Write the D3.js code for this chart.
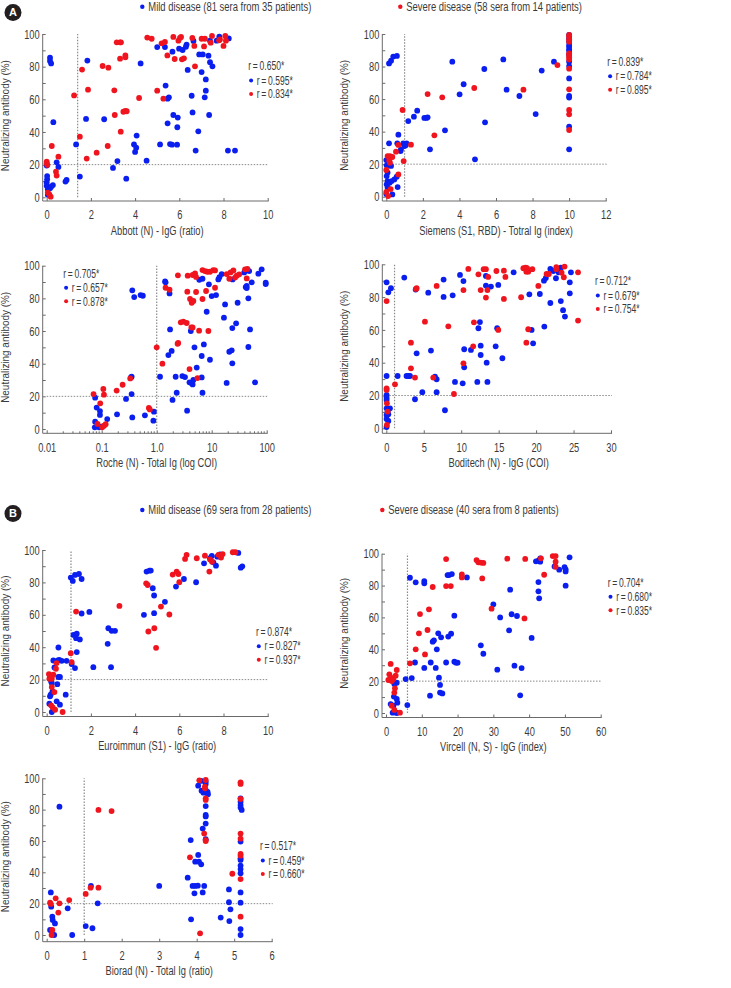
<!DOCTYPE html>
<html><head><meta charset="utf-8">
<script src="https://cdn.jsdelivr.net/npm/d3@7"></script>
<style>
body{margin:0;background:#fff}
svg text{font-family:"Liberation Sans Narrow","Arial Narrow",sans-serif;fill:#3a3a3a}
</style></head><body>
<svg id="c" width="731" height="988"></svg>
<script>
// ---------- data ----------
const groups = ["Mild disease", "Severe disease"];
const legendA = ["Mild disease (81 sera from 35 patients)", "Severe disease (58 sera from 14 patients)"];
const legendB = ["Mild disease (69 sera from 28 patients)", "Severe disease (40 sera from 8 patients)"];
const yTicks = [0,20,40,60,80,100];
const yTitle = "Neutralizing antibody (%)";

const abbottTicks = [0,2,4,6,8,10];
const siemensTicks = [0,2,4,6,8,10,12];
const rocheTicks = [0.01,0.1,1,10,100];
const rocheTickLabels = ["0.01","0.1","1.0","10","100"];
const boditechTicks = [0,5,10,15,20,25,30];
const euroTicks = [0,2,4,6,8,10];
const vircellTicks = [0,10,20,30,40,50,60];
const bioradTicks = [0,1,2,3,4,5,6];

const abbottR = ["0.650","0.595","0.834"];
const siemensR = ["0.839","0.784","0.895"];
const rocheR = ["0.705","0.657","0.878"];
const boditechR = ["0.712","0.679","0.754"];
const euroR = ["0.874","0.827","0.937"];
const vircellR = ["0.704","0.680","0.835"];
const bioradR = ["0.517","0.459","0.660"];

const abbottMild = [[0.15,85.5],[0.15,83.5],[0.2,82],[0.3,46],[0,19.4],[0.02,13],[0.02,11],[0,9],[0,7],[0.05,5],[0.05,1.5],[0.45,21.4],[0.53,18.6],[0.2,6.5],[0.15,5.5],[0.28,7.5],[0.85,9.6],[0.9,10.6],[1.33,32.4],[1.5,12.7],[1.78,48],[1.84,83.7],[2.6,47.8],[3.0,18],[3.2,22.2],[3.6,11.4],[3.95,32.4],[4.07,37.8],[4.05,30.4],[4.0,27.8],[4.25,82],[4.52,22.4],[5.0,92],[5.35,92],[5.38,68.4],[5.47,60.4],[5.53,61.2],[5.47,45.3],[5.13,32.4],[5.58,32.6],[5.67,32.2],[5.9,32.2],[5.73,50.4],[5.93,48.8],[5.91,42.9],[5.69,89.2],[5.99,91],[6.15,90.2],[6.33,93.5],[6.3,92.2],[6.38,78],[6.56,62.2],[6.6,52],[6.64,95.7],[6.74,28.6],[6.86,40.4],[6.9,87.5],[7.06,87.5],[7.01,76.7],[7.15,61.2],[7.2,65.3],[7.2,72.2],[7.32,86.7],[7.35,50.4],[7.39,82.7],[7.5,80.2],[7.39,95.9],[7.69,95.9],[7.81,98.4],[8.24,97.3],[8.2,28.6],[8.52,28.6]];
const abbottSevere = [[0,21.8],[0,20.8],[0.03,19.8],[0.05,2.9],[0.12,1.8],[0.18,0.4],[0.23,31.4],[0.42,15.7],[0.45,13.3],[0.53,24.9],[1.24,62.4],[1.5,37.1],[1.6,78.2],[1.81,23.7],[1.87,65.9],[2.26,27.3],[2.53,80.4],[2.79,79.4],[2.76,31.4],[3.06,65.5],[3.08,50.4],[3.17,94.9],[3.32,94.9],[3.36,94.9],[3.32,84.9],[3.35,40.2],[3.47,52.4],[3.56,52.9],[3.62,52.7],[3.56,86.9],[3.56,85.7],[4.18,60.8],[4.55,97.8],[4.75,97.1],[5.0,65.3],[5.2,94.3],[5.35,95.1],[5.28,60.4],[5.46,86.9],[5.73,98.2],[5.79,84.7],[5.96,95.9],[6.03,97.6],[6.08,98.2],[6.12,84.5],[6.21,85.1],[6.59,97.6],[6.68,92.7],[6.71,80.2],[7.01,97.1],[7.16,97.1],[7.12,92.4],[7.42,94.7],[7.48,98.8],[7.84,96.7],[7.8,96.1],[8.08,98.8],[8.11,95.9],[8.0,92.7]];

const siemensMild = [[0.15,81.9],[0.26,83.6],[0.38,86.1],[0.58,86.5],[0.15,32.8],[0,22.5],[0.02,19.3],[0.07,14.8],[0.02,12.7],[0.07,9.6],[0.02,7.6],[0.07,5.7],[0,1.6],[0.16,19.3],[0.26,18.9],[0.18,8.6],[0.29,9.6],[0.33,1.4],[0.44,10.6],[0.57,12.3],[0.62,5.9],[0.66,38.1],[0.6,32.8],[0.8,29.1],[0.78,28.1],[0.93,32.8],[0.99,31.1],[1.11,32.8],[1.06,31.6],[1.2,46.5],[1.51,49.2],[1.69,52.9],[2.08,48.4],[2.2,48.4],[2.26,48.8],[2.39,29.1],[3.21,40.8],[3.61,83],[4.01,62.9],[4.23,69.1],[4.85,23],[5.36,78.5],[5.4,45.7],[6.4,84.4],[6.58,65.8],[7.28,61.9],[8.17,50.8],[8.5,77.5],[9.17,83],[10,99.4],[10,97.3],[10,95.3],[10,93.2],[10,92.2],[10,90.6],[10,89.5],[10,87.1],[10,83],[10,80.3],[10,72.7],[10,61.9],[10,60.9],[10,43],[10,29.1]];
const siemensSevere = [[0,16.4],[0,2.9],[0.1,0.4],[0.07,25],[0.2,25],[0.33,24.4],[0.16,22.3],[0.2,20.9],[0.24,4.7],[0.53,27.7],[0.66,31.8],[0.66,13.7],[0.89,53.3],[0.95,21.9],[1.35,32],[2.26,63.1],[2.63,37.7],[3.06,61.1],[4.81,66.8],[7.5,65.8],[9.36,80.9],[10,99.4],[10,98.4],[10,96.7],[10,95.3],[10,88.1],[10,87.1],[10,85.7],[10,84.4],[10,78.7],[10,66],[10,53.3],[10,50.6],[10,41]];

const rocheMild = [[0.076,19.2],[0.081,13.1],[0.076,4.5],[0.075,1],[0.093,11],[0.093,8.6],[0.09,1],[0.098,1.4],[0.126,6.1],[0.19,9],[0.277,18.4],[0.34,31.6],[0.35,32],[0.35,21.4],[0.36,7.1],[0.36,84.9],[0.39,80.8],[0.51,82],[0.56,81.6],[0.61,8.4],[0.87,5.1],[0.89,10.6],[1.15,32],[1.42,90.4],[1.45,89.8],[1.71,83],[1.75,61],[1.63,45.3],[1.87,47.8],[1.94,17.8],[2.21,32],[2.31,22.2],[2.93,32.4],[3.27,31.8],[3.57,11.2],[3.95,28.6],[4.33,28],[4.5,27.3],[4.64,30],[4.17,60],[4.86,50],[5.34,37.6],[5.95,91.4],[6.8,92],[6.58,44.7],[6.58,31.6],[6.8,22.2],[7.2,51.8],[8.1,71.8],[8.9,88.6],[9.3,42.4],[10,81.4],[12,82],[13.2,91.6],[13.8,93],[15.2,94.9],[16.7,68.2],[17.5,76.3],[18.7,28.2],[20.9,47.3],[23.1,48.2],[23.7,40.2],[23.7,61.8],[24,91.6],[27.8,64.7],[29.6,77.3],[39,95.9],[41.5,86.9],[43.3,86.3],[43.3,87.6],[46.4,80],[46.4,50.2],[49.8,61],[48,96.7],[53.4,89.8],[61.4,28.6],[70.5,95.1],[81,97.8],[96,89.6],[96,88.8]];
const rocheSevere = [[0.071,21.4],[0.084,3.1],[0.094,15.7],[0.102,1],[0.11,2],[0.118,2.9],[0.107,24.5],[0.11,21],[0.187,23.5],[0.24,27.1],[0.33,31],[0.72,12.9],[0.75,12],[1.0,50],[1.27,40],[1.45,86.5],[1.71,85.3],[2.4,52.2],[2.46,52.7],[2.43,94.1],[2.74,65.3],[3.05,65.7],[3.51,64.9],[3.6,84.1],[3.66,93.9],[3.95,36.7],[4.27,62.2],[4.5,62.2],[4.04,79.6],[4.33,77.3],[4.64,78.4],[4.5,94.3],[4.98,95.3],[5.2,93.1],[5.2,83.9],[5.5,31.2],[5.9,60.2],[6.8,79.6],[6.8,97.3],[7.56,96.7],[8.3,96.3],[9.33,96.3],[10.7,97.3],[11.5,97.1],[7.9,84.5],[8.7,60],[11.5,86.5],[18.7,94.9],[22,95.9],[24.8,97.1],[20.9,92],[26.6,92.7],[28.5,93.9],[31.6,94.7],[40.4,97.8],[44.5,98],[43.3,92.2]];

const boditechMild = [[0.04,89],[0.27,82.9],[0.62,85.4],[0.04,31.9],[0.04,20.3],[0.04,18.7],[0.04,17.3],[0.04,12.2],[0.18,10.2],[0.04,8.1],[0.04,5.7],[0.27,4.5],[0.04,0.8],[0.49,12.2],[0.27,8.5],[1.51,31.9],[2.4,91.9],[2.7,31.9],[2.94,31.9],[3.16,31.9],[3.92,84.6],[4.05,45.7],[3.83,17.7],[4.81,22],[5.6,82.7],[5.96,47.4],[6.5,31.5],[6.72,29.9],[6.72,22],[7.65,90.7],[7.65,80.1],[7.83,11],[8.86,81.1],[9.17,28.3],[9.84,93.5],[10.3,89.8],[10.4,48.2],[10.4,37.2],[10.2,27.4],[11.3,47.8],[12.15,28.3],[12.3,61],[12.5,64.8],[12.6,50.4],[12.6,44.7],[13.3,92.9],[13.3,87],[13.4,40],[13.5,28.3],[13.97,86.4],[14.6,50],[14.8,61],[14.95,87.4],[15.5,42.7],[17.0,95.1],[19.1,81.7],[19.4,60],[19.6,51.8],[20.5,81.9],[21.1,62],[21.05,90],[21.3,91.7],[21.9,76.4],[21.9,97.2],[22.3,95.9],[23,95.1],[23.3,97.9],[22.65,91.5],[23.3,77.6],[23.6,72],[23.85,68.1],[24.5,89],[24.5,82.3],[24.65,95.1]];
const boditechSevere = [[0.04,77.6],[0.04,24.4],[0.04,23.4],[0.08,15.2],[0.18,10.2],[0.08,2],[1.16,26.8],[3.29,52.2],[3.29,36.6],[3.83,30.9],[3.96,85],[4.05,85.4],[5.16,65],[6.27,30.9],[6.72,86.8],[8.28,62.2],[10.3,39.6],[9.03,20.9],[10.3,84.3],[10.95,97.2],[11.7,64.6],[11.6,50],[12.3,93.9],[12.6,84.3],[13,97],[13.3,97],[13.3,79.7],[13.5,84.3],[13.6,92.3],[14.7,95.9],[14.95,60],[15.7,96.1],[15.7,78.9],[15.9,92.3],[18,79.9],[18.3,97.6],[18.6,98],[18.8,97.6],[18.7,95.5],[18.95,95.5],[19.5,97],[18.7,52.2],[18.95,60.4],[20.3,86.8],[21.4,94.1],[21.7,94.1],[22.7,98.2],[22.7,97],[23.4,94.9],[23.8,98.6],[23.7,92.1],[25.6,95.1],[25.6,65.7]];

const euroMild = [[0.12,5.1],[0.15,9.7],[0.18,10.7],[0.2,18.9],[0.23,17.9],[0.23,0],[0.26,12.7],[0.3,31.8],[0.35,27.5],[0.45,6.6],[0.6,4.5],[0.48,17.2],[0.53,39.8],[0.53,21.6],[0.6,21.6],[0.5,31.8],[0.57,32.2],[0.68,31.6],[0.86,10.7],[0.9,31.6],[1.09,83],[1.18,80.9],[1.28,84.6],[1.46,85.2],[1.58,82.1],[1.58,60.8],[1.21,47.6],[1.36,48.3],[1.33,45.6],[1.5,44.8],[1.13,29.6],[1.28,27.1],[1.36,37],[1.93,61.8],[2.11,27.7],[2.76,42.1],[2.79,51.7],[2.94,50.1],[3.09,50.1],[2.91,27.7],[4.4,60],[4.52,86.7],[4.65,87.3],[4.71,87.3],[4.8,76.4],[4.86,71.9],[4.86,61],[5.35,68],[5.85,77.4],[6.21,82.1],[6.76,80.1],[7.12,91.8],[7.39,94.9],[7.47,96.3],[7.54,92.4],[7.66,90.3],[7.72,95.9],[7.84,97.3],[7.78,96.7],[8.67,98.2],[8.78,89.1],[8.85,89.9]];
const euroSevere = [[0.1,23.4],[0.15,22],[0.23,20.5],[0.12,20.5],[0.3,23],[0.23,15.4],[0.35,12.3],[0.2,4.1],[0.27,2.9],[0.38,1.4],[0.42,26.7],[0.45,30.2],[0.72,0],[1.09,36.3],[1.13,30.8],[1.33,62],[3.29,65.5],[4.5,79.4],[4.57,78.4],[4.6,49.7],[4.87,51.7],[4.95,39.6],[5.17,65.1],[5.55,60.2],[5.7,84.8],[5.88,86.7],[5.96,85.2],[6.0,80.1],[6.26,94.5],[6.33,97],[6.79,94.9],[7.16,96.5],[7.36,86.7],[7.39,94.2],[7.48,92.8],[7.77,97],[7.89,95.3],[7.96,97.5],[8.42,98.6],[8.54,98.6]];

const vircellMild = [[1.3,5.6],[2.05,4.6],[1.86,0.2],[2.5,0.4],[3,0],[2.2,10.3],[2.33,18.2],[3,19],[3,8.8],[3.17,6.5],[5.5,21.3],[5.96,5],[6.7,84.9],[7.2,21.9],[8.1,31.7],[8.3,82],[10.7,82.8],[10.7,81.4],[10.7,28.3],[12.3,10.9],[12.5,31.7],[13.05,44.8],[13.4,45.6],[13.9,28.3],[14.2,40],[14.6,50],[14.8,22.2],[15.1,17.6],[15.1,12.8],[15.75,12.3],[15.4,47.5],[16.8,31.7],[17.2,86.6],[17.6,86.6],[18.4,87.2],[17.4,48],[18.2,49.8],[19.1,61.1],[19.1,32.2],[19.6,31.6],[20,31.6],[22.6,85.1],[26.5,42.5],[27.2,37.2],[30,68.2],[31.1,27.2],[31.9,60],[34.4,51.9],[34.7,77.4],[35.1,62],[35.9,29.7],[36.6,60.9],[37.5,11.1],[37.9,28.2],[40.7,47.1],[41.9,95.2],[42.6,95.6],[43.1,97.1],[43.1,95],[42.6,82.2],[42.6,76.4],[42.8,72],[47.1,92],[48.4,90],[49.9,91.6],[50.2,90.2],[50.2,88.9],[50.2,79.9],[51.3,97.7]];
const vircellSevere = [[0.65,20.7],[0.93,24.3],[1.4,22.2],[1.6,20.1],[1.3,30.8],[2.05,21.3],[2.33,12.8],[2.5,15.5],[2.7,23.4],[3,27],[1.6,4.6],[2.33,1.9],[3.9,0.2],[6.7,31.2],[8.3,40],[9.2,50],[9.5,62.1],[10.9,36.8],[11.6,52.1],[12,65.1],[13.05,79.1],[16.8,96.6],[16.8,79.7],[18.1,79.7],[21.2,87],[21.2,85.1],[25.3,96],[25.8,94.6],[26.5,94.4],[27.2,94.2],[26.9,84.5],[29.5,65.5],[33.9,96.9],[38.7,59.4],[38.9,96.7],[43.3,97.1],[44.2,86.8],[46.6,98.5],[47.4,98.5],[47.4,95],[47.4,91.8]];

const bioradMild = [[0.11,27.2],[0.12,18.1],[0.09,3.2],[0.15,11.7],[0.16,9.6],[0.22,7.4],[0.2,0],[0.34,81.9],[0.56,17],[0.68,0],[1.04,5.7],[1.22,4.3],[1.18,31.3],[1.36,20.2],[3.0,31.3],[3.76,36.6],[3.84,60.6],[3.85,10],[3.89,31.3],[3.96,31.3],[3.94,26.6],[3.96,46.8],[4.06,46.8],[4.12,45.1],[4.04,51.1],[4.03,31.5],[4.04,95.3],[4.12,98.3],[4.13,92.1],[4.18,90.8],[4.24,92.6],[4.27,90.8],[4.3,89.9],[4.29,91.4],[4.16,67.9],[4.16,27.2],[4.2,31.3],[4.24,97.9],[4.24,96.4],[4.24,82.3],[4.24,76.6],[4.24,75.7],[4.24,71.1],[4.24,61.1],[4.64,11.1],[4.86,29.1],[4.86,20.9],[4.9,16.4],[4.87,8.9],[5.17,87.2],[5.17,85.1],[5.17,83],[5.17,81.3],[5.2,79.8],[5.17,59.6],[5.17,48.9],[5.17,47.9],[5.17,44.3],[5.17,42.1],[5.17,39.4],[5.17,27.2],[5.17,20.6],[5.17,3.8],[5.17,0]];
const bioradSevere = [[0.09,20.6],[0.11,19.8],[0.15,3.2],[0.13,0],[0.24,23.4],[0.31,14.3],[0.34,20.2],[0.6,22.3],[1.04,26.2],[1.17,30.2],[1.38,30.2],[1.38,79.8],[1.73,79.1],[3.82,49.6],[4.07,98.7],[4.09,1.1],[4.2,64.7],[4.22,94.7],[4.22,93.6],[4.24,98.9],[4.24,87.2],[4.24,86.2],[4.24,60.6],[4.24,60],[4.95,39.1],[5.17,97.4],[5.17,96.4],[5.17,86.8],[5.17,64.7],[5.17,61.5],[5.17,51.7],[5.17,50.6],[5.17,35.7],[5.17,11.7]];

// ---------- style / layout ----------
const BLUE = "#0a1ef0", RED = "#f0141e";
const colors = [BLUE, RED];
const svg = d3.select("#c");

function measure(str, size) {
  const t = svg.append("text").style("font-size", size + "px").text(str);
  const L = t.node().getComputedTextLength(); t.remove(); return L;
}
const F_TICK = 13, F_TITLE = 12.5, F_YTITLE = 11.5, F_R = 12, F_LEG = 12.5;
const kTick = 15.5 / measure("100", F_TICK);
const kTitle = 92.7 / measure("Abbott (N) - IgG (ratio)", F_TITLE);
const kYTitle = 111 / measure(yTitle, F_YTITLE);
const kR = 36 / measure("r\u2009=\u20090.650*", F_R);
const kLeg = 163 / measure(legendA[0], F_LEG);
function squeeze(sel, k) {
  sel.each(function(){
    const L = this.getComputedTextLength();
    if (L > 0) { this.setAttribute("textLength", (L*k).toFixed(2)); this.setAttribute("lengthAdjust","spacingAndGlyphs"); }
  });
}

const panels = [
  {title:"Abbott (N) - IgG (ratio)", mild:abbottMild, severe:abbottSevere, ticks:abbottTicks, domain:[0,10], cutoff:1.4, r:abbottR,
   x0:46.7, x1:267.7, yT:34, yB:197.3, axisY:201, rx:248.3, ry:66, ytx:8.8},
  {title:"Siemens (S1, RBD) - Totral Ig (index)", mild:siemensMild, severe:siemensSevere, ticks:siemensTicks, domain:[0,12], cutoff:1, r:siemensR,
   x0:386.3, x1:605.7, yT:34, yB:196.7, axisY:201, rx:607.3, ry:61.7, ytx:348},
  {title:"Roche (N) - Total Ig (log COI)", mild:rocheMild, severe:rocheSevere, ticks:rocheTicks, labels:rocheTickLabels, log:true, domain:[0.01,100], cutoff:1, r:rocheR,
   x0:46.7, x1:266.7, yT:265.7, yB:429, axisY:433.3, rx:63.3, ry:273.3, ytx:8.8},
  {title:"Boditech (N) - IgG (COI)", mild:boditechMild, severe:boditechSevere, ticks:boditechTicks, domain:[0,30], cutoff:1.1, r:boditechR,
   x0:386.3, x1:611, yT:264.3, yB:428.3, axisY:433.3, rx:595, ry:281, ytx:348},
  {title:"Euroimmun (S1) - IgG (ratio)", mild:euroMild, severe:euroSevere, ticks:euroTicks, domain:[0,10], cutoff:1.1, r:euroR,
   x0:46.7, x1:267.7, yT:550, yB:712, axisY:716.5, rx:256, ry:631.7, ytx:8.8},
  {title:"Vircell (N, S) - IgG (index)", mild:vircellMild, severe:vircellSevere, ticks:vircellTicks, domain:[0,60], cutoff:6, r:vircellR,
   x0:386, x1:600.7, yT:553.7, yB:713, axisY:717.5, rx:607.7, ry:582.3, ytx:348},
  {title:"Biorad (N) - Total Ig (ratio)", mild:bioradMild, severe:bioradSevere, ticks:bioradTicks, domain:[0,6], cutoff:1, r:bioradR,
   x0:46.7, x1:271.7, yT:778.3, yB:935, axisY:941.7, rx:260, ry:846, ytx:8.8}
];

const AXIS = "#6a6a6a", REF = "#8a8a8a";

panels.forEach(p => {
  const g = svg.append("g");
  const x = (p.log ? d3.scaleLog() : d3.scaleLinear()).domain(p.domain).range([p.x0, p.x1]);
  const y = d3.scaleLinear().domain([0,100]).range([p.yB, p.yT]);
  const ax = p.x0 - 4;

  // reference lines
  g.append("line").attr("x1", x(p.domain[0])).attr("x2", p.x1 + 1).attr("y1", y(20)).attr("y2", y(20))
    .attr("stroke", REF).attr("stroke-width", 1).attr("stroke-dasharray", "1.5,1.5");
  g.append("line").attr("x1", x(p.cutoff)).attr("x2", x(p.cutoff)).attr("y1", y(0)).attr("y2", y(100))
    .attr("stroke", REF).attr("stroke-width", 1.2).attr("stroke-dasharray", "1.5,1.5");

  // y axis
  const yAxis = d3.axisLeft(y).tickValues(d3.range(0,101,10)).tickSize(-3).tickPadding(3)
    .tickFormat(d => yTicks.includes(d) ? d : "");
  const yg = g.append("g").attr("transform", `translate(${ax},0)`).call(yAxis);
  yg.select(".domain").remove();
  yg.selectAll("line").attr("stroke", AXIS);
  yg.selectAll("text").attr("fill", "#3a3a3a").style("font-size", F_TICK + "px")
    .style("font-family", '"Liberation Sans Narrow",sans-serif').call(squeeze, kTick);
  g.append("line").attr("x1", ax).attr("x2", ax).attr("y1", y(100)).attr("y2", p.axisY).attr("stroke", AXIS);

  // x axis
  const xAxis = d3.axisBottom(x).tickValues(p.ticks).tickSize(-3).tickPadding(9)
    .tickFormat((d,i) => p.labels ? p.labels[i] : d);
  const xg = g.append("g").attr("transform", `translate(0,${p.axisY})`).call(xAxis);
  xg.select(".domain").remove();
  xg.selectAll("line").attr("stroke", AXIS);
  xg.selectAll("text").attr("fill", "#3a3a3a").style("font-size", F_TICK + "px")
    .style("font-family", '"Liberation Sans Narrow",sans-serif').call(squeeze, kTick);
  if (p.log) {
    const minor = [];
    for (let e = -2; e < 2; e++) for (let m = 2; m <= 9; m++) minor.push(m * Math.pow(10, e));
    g.selectAll(null).data(minor).join("line")
      .attr("x1", d => x(d)).attr("x2", d => x(d)).attr("y1", p.axisY).attr("y2", p.axisY - 2)
      .attr("stroke", AXIS);
  }
  g.append("line").attr("x1", ax).attr("x2", p.x1 + 1).attr("y1", p.axisY).attr("y2", p.axisY).attr("stroke", AXIS);

  // titles
  g.append("text").attr("x", (p.x0 + p.x1) / 2).attr("y", p.axisY + 33.5).attr("text-anchor", "middle")
    .style("font-size", F_TITLE + "px").text(p.title).call(squeeze, kTitle);
  g.append("text").attr("transform", `translate(${p.ytx},${(p.yT + p.yB) / 2}) rotate(-90)`)
    .attr("text-anchor", "middle").style("font-size", F_YTITLE + "px").text(yTitle).call(squeeze, kYTitle);

  // points
  [p.mild, p.severe].forEach((arr, gi) => {
    g.append("g").selectAll("circle").data(arr).join("circle")
      .attr("cx", d => x(Math.max(d[0], p.domain[0]))).attr("cy", d => y(d[1]))
      .attr("r", 2.9).attr("fill", colors[gi]);
  });

  // r legend
  const rl = g.append("g");
  rl.append("text").attr("x", p.rx).attr("y", p.ry).attr("dy", "0.35em").style("font-size", F_R + "px")
    .text("r\u2009=\u2009" + p.r[0] + "*").call(squeeze, kR);
  [1,2].forEach(i => {
    const yy = p.ry + (i === 1 ? 14.5 : 28);
    rl.append("circle").attr("cx", p.rx + 2.8).attr("cy", yy).attr("r", 2).attr("fill", colors[i-1]);
    rl.append("text").attr("x", p.rx + 8.5).attr("y", yy).attr("dy", "0.35em").style("font-size", F_R + "px")
      .text("r\u2009=\u2009" + p.r[i] + "*").call(squeeze, kR);
  });
});

// group legends and badges
function header(yy, labels, xs) {
  labels.forEach((s, i) => {
    svg.append("circle").attr("cx", xs[i]).attr("cy", yy).attr("r", 2.2).attr("fill", colors[i]);
    svg.append("text").attr("x", xs[i] + 6).attr("y", yy).attr("dy", "0.35em").style("font-size", F_LEG + "px")
      .text(s).call(squeeze, kLeg);
  });
}
header(6.8, legendA, [142.3, 400.3]);
header(510, legendB, [142.3, 382.3]);

function badge(cx, cy, letter) {
  svg.append("circle").attr("cx", cx).attr("cy", cy).attr("r", 8.5).attr("fill", "#231f20");
  svg.append("text").attr("x", cx).attr("y", cy).attr("dy", "0.36em").attr("text-anchor", "middle")
    .style("font-family", "Arial, 'Liberation Sans', sans-serif").style("font-weight", "bold")
    .style("font-size", "11px").style("fill", "#fff").text(letter);
}
badge(13, 12.5, "A");
badge(13, 513.5, "B");
</script>
</body></html>
